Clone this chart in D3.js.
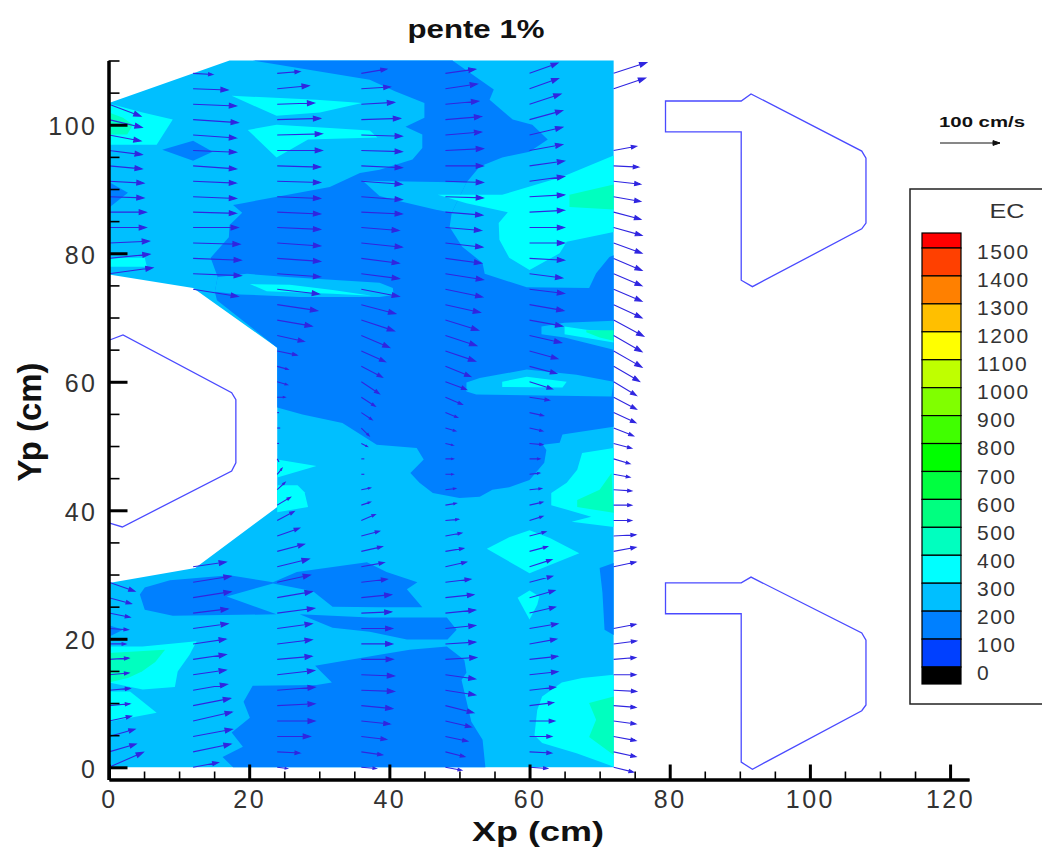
<!DOCTYPE html>
<html><head><meta charset="utf-8">
<script src="https://cdn.jsdelivr.net/npm/d3@7"></script>
<style>
html,body{margin:0;padding:0;background:#fff}
svg{display:block}
text{font-family:"Liberation Sans",Arial,sans-serif}
</style></head><body>
<div id="chart"></div>
<script>
const WIDTH = 1042, HEIGHT = 850;

// ---- EC colour levels (top = above 1500, bottom = below 0)
const levelLabels = [1500,1400,1300,1200,1100,1000,900,800,700,600,500,400,300,200,100,0];
const levelColors = ["#FF0000","#FF4000","#FF8000","#FFBF00","#FFFF00","#BFFF00","#80FF00","#40FF00","#00FF00","#00FF40","#00FF80","#00FFBF","#00FFFF","#00BFFF","#0080FF","#0040FF","#000000"];

// ---- flooded zone and EC contour bands, in cm (Xp, Yp)
const domainOutline = [[0,103.4],[17.2,110],[72,110],[72,0],[0,0],[0,28.7],[12.3,31],[24,40.5],[24,65.3],[12,74.6],[0,76.7]];

const band100 = [
 [[20.5,110],[49,110],[54.9,105.5],[54.3,103.9],[57.6,100.8],[60.4,100],[62.6,97.7],[60,95.8],[56.1,94.9],[52.9,93.5],[51,91],[48.9,86.3],[48.6,84.1],[50.4,81],[53.3,78.5],[53.6,76.8],[59.6,74.7],[68.5,74.6],[69.5,76.9],[71.4,79.4],[72,79.7],[72,53],[64.7,51.8],[64.3,50.5],[61.9,50.2],[62.4,49.4],[62.1,47.4],[60,44.7],[57.1,43.6],[54.7,43.2],[52.9,42.1],[50,41.9],[46.2,42.7],[44.3,44.3],[43,45.8],[44.9,47.9],[43.9,49.7],[38.2,50.2],[33.3,53.6],[27.6,54.9],[24,56],[24,65.3],[15.4,72.7],[15.1,74],[15.5,76.3],[14.5,79.3],[17.1,82.5],[17.2,84.4],[19,86.3],[17.7,87.5],[19.1,87.8],[31.5,90.3],[35.8,92.5],[38.6,93],[43.3,94.6],[44.7,96.4],[44.7,98.5],[42.3,99.7],[45,101.1],[45,103.4],[40.8,105.2],[37.2,107]],
 [[7.6,96.1],[12,97.5],[14.8,95.8],[12,94.4]],
 [[0,91.1],[2.7,89.4],[0,87.1]],
 [[4.4,26.9],[5.1,28],[8.7,29.1],[17.2,29.9],[23.4,28.8],[26.8,30.4],[36.8,31.9],[39.6,30.4],[44,28.8],[42.5,27.7],[44.7,24.9],[38.6,24.9],[31.9,25],[29.1,27.4],[23.4,28.6],[16.8,26.6],[23.9,23.8],[9.1,23.6],[5.1,24.5]],
 [[27.2,23.8],[37.2,23.3],[48.2,23.3],[49.6,21.4],[48.3,19.9],[42.5,19.9],[37.2,21.1],[31.9,21.7]],
 [[16.2,1.6],[19.1,3.2],[17.5,5.4],[20.1,7.7],[19.2,10.2],[20.5,12.7],[29.6,12.8],[31.8,13.2],[29.4,15.8],[38.6,17.5],[42.9,18.3],[48.2,18.8],[50.7,16.7],[51,14.7],[50.3,13.6],[51.7,7.1],[53.3,4.3],[53.7,0],[17.7,0]],
 [[70,31],[72,31.8],[72,20.6],[70.7,21.4],[70.4,27.2]],
 [[0,22.1],[2,21.4],[0,20.3]]
];
const band200 = [
 [[36.2,91.3],[51,91],[48.9,86.3],[46.5,86.8],[41.8,88],[38.6,88.9]],
 [[15.5,76.3],[19.7,76.8],[25.4,76.3],[38.6,75.4],[40.5,74.6],[40.6,73.5],[38.6,73.2],[27.2,73.2],[18.7,73.6],[15.1,74]],
 [[61.7,68.6],[65,69.2],[72,69.5],[72,65],[65,66.9],[61.7,67.4]],
 [[51,59.9],[52.9,60.6],[59.6,61.9],[66.7,61.1],[72,60],[71.7,57.7],[52.4,58],[51,58.5]]
];
const band300 = [
 [[17.5,104.5],[29.6,103.9],[36.1,103.4],[30.1,101.9],[23.9,101.4]],
 [[19.8,99.2],[23.9,100],[31.5,99.5],[37.2,99.1],[38.3,98],[28.4,97.7],[23.9,94.9]],
 [[0,103.3],[4.8,101.9],[9.1,100.8],[6.8,96.9],[0,96.9]],
 [[0,79.3],[5.1,79.3],[5.4,77.9],[0,77.9]],
 [[46.9,89.1],[56.1,89.1],[64.7,91.9],[72,95.2],[72,83.3],[65.3,81.8],[64.3,80],[60,77.4],[57.1,79.3],[55.7,82.1],[55.6,84.7],[56.9,86.4],[51,87.8]],
 [[20.1,75.2],[25.8,75.1],[31.9,74.3],[37.5,73.4],[31.9,73.7],[22.5,74.1]],
 [[65,68.6],[68.1,68.1],[71.7,67.8],[72,66.1],[65,67.4]],
 [[56.1,60],[59.6,60.8],[65.3,60],[64.7,59.1],[56.1,59.2]],
 [[67.5,48.9],[72,49.7],[72,37.4],[66,38.2],[68.8,39],[63.1,40.8],[63.1,42.7],[65.3,44.3],[66.8,46.3]],
 [[53.9,34],[57.1,35.8],[60,36.9],[62.9,35.7],[67.1,33.3],[60,30.2]],
 [[58.3,26.4],[60,27.5],[61.4,26.6],[61.1,25.3],[60,23]],
 [[61.1,8.9],[61.8,11],[64.6,13.2],[67.5,13.9],[72,14.4],[72,0.1],[66.7,2.2],[61.8,3.8],[60.7,5]],
 [[0,18.8],[4.8,18.8],[12.5,19.6],[11.5,17.5],[9.8,14.9],[9.4,12.5],[4.8,12.1],[0,13.2]],
 [[0,11.8],[3,11.8],[6.8,8.5],[0,7.1]],
 [[24,47.9],[29.6,46.9],[24,45.1]],
 [[24,43.9],[26.9,43.9],[27.9,42.8],[28.4,40.5],[24,39.7]]
];
const band400 = [
 [[0,101.9],[2,101.1],[3.4,100],[2.6,98.5],[0,98.5]],
 [[65.7,89.1],[72,90.7],[72,86.8],[65.7,87.2]],
 [[68.1,68],[72,68],[72,66.4],[70,66.9],[68.1,67.7]],
 [[71.7,45.8],[70,43.2],[66.8,41.6],[66.8,40.5],[72,39.6]],
 [[68.5,10],[72,11],[72,1.9],[68.5,4.7],[69.5,7.4]],
 [[0,17.8],[8,18.3],[6.6,16.4],[4.7,14.9],[2.7,13.9],[0,13.2]]
];

// ---- groyne outlines, in cm
const pierLeft = [[0.1,66.5],[2,67.3],[17.5,58.3],[18.1,57.2],[18.1,47.4],[17.5,46.1],[1.9,37.4],[0.1,38]];
const pierTop = [[79.4,103.7],[90.2,103.7],[91.6,104.8],[107.4,95.9],[108,94.8],[108,84.7],[107.4,83.8],[91.8,74.8],[90.2,75.8],[90.2,98.9],[79.4,98.9]];
const pierBottom = [[79.4,28.7],[90.2,28.7],[91.6,29.6],[107.4,20.9],[108,19.8],[108,9.7],[107.4,8.8],[91.8,-0.3],[90.2,0.8],[90.2,23.9],[79.4,23.9]];

// ---- velocity vectors (cm/s); one entry per row, rows every 2.4 cm from Yp = 0
const _ = null;
const colX = [0,12,24,36,48,60,72];
const rowStep = 2.4;
const u0 = [57,45,43,37,35,35,33,33,28,32,35,37,43, _,_,_,_,_,_,_,_,_,_,_,_,_,_,_,_,_,_,_, 73,68,67,62,62,58,58,55,55,53,55,53, _,_];
const v0 = [25,13,12,8,3,3,3,2,0,-2,-7,-10,-15, _,_,_,_,_,_,_,_,_,_,_,_,_,_,_,_,_,_,_, 10,7,3,0,0,-2,-3,-5,-7,-10,-13,-20, _,_];
const u1 = [42,63,65,65,62,57,55,55,55,58,58,63,63,55, _,_,_,_,_,_,_,_,_,_,_,_,_,_,_,_,_, 75,80,80,78,75,72,72,72,72,72,72,75,72,58,33];
const v1 = [8,13,12,15,12,10,8,8,8,8,7,10,10,8, _,_,_,_,_,_,_,_,_,_,_,_,_,_,_,_,_, -12,-3,-3,-2,0,-2,-3,-3,-5,-3,-5,-5,-3,-2,-2];
const u2 = [17,38,55,63,63,63,62,58,58,58,62,58,55,53,45,37,28,22,13,8,3,3,5,3,13,17,18,33,45,58,67,70,72,72,72,72,72,72,72,72,75,75,72,62,53,38];
const v2 = [-2,-2,0,0,3,5,7,5,7,8,8,10,12,13,12,13,15,13,12,10,-5,0,0,0,0,-5,-5,-7,-10,-10,-10,-8,-5,-5,-5,-3,-3,-3,-2,-2,0,2,2,2,5,3];
const u3 = [25,35,42,48,52,55,55,53,52,52,50,50,43,38,35,30,23,15,15,5,5,10,13,18,23,30,35,40,47,55,57,63,63,63,68,63,68,68,68,68,68,68,65,55,48,42];
const v3 = [-2,-5,-5,-5,-5,-2,-2,0,0,0,2,5,5,7,8,8,10,5,3,0,0,-5,-13,-12,-15,-20,-18,-18,-20,-18,-15,-12,-8,-8,-7,-5,-3,-5,-5,-3,-2,-2,2,3,3,7];
const u4 = [27,32,37,43,47,50,50,52,50,50,50,47,42,35,30,27,22,18,17,13,13,13,17,20,28,35,42,50,52,55,58,62,63,60,62,60,62,63,63,63,63,60,60,55,53,50];
const v4 = [-5,-8,-8,-10,-12,-8,-7,3,3,5,5,5,5,8,5,5,2,3,2,0,0,-3,-5,-8,-12,-13,-17,-17,-17,-17,-13,-13,-10,-8,-7,-5,-5,-2,-2,0,3,5,5,5,8,7];
const u5 = [30,37,37,42,40,43,47,47,45,47,43,42,38,37,30,27,22,22,20,17,17,22,22,23,33,38,45,47,53,55,57,58,55,58,58,58,58,58,58,58,55,55,55,52,48,47];
const v5 = [-2,-2,0,0,5,5,5,5,8,8,10,12,10,12,8,7,7,5,2,2,0,-2,-5,-5,-5,-12,-12,-13,-12,-10,-10,-7,-7,-3,0,0,3,3,8,8,10,13,15,17,17,17];
const u6 = [33,37,37,37,37,38,37,37,38,37, _,_,_, 37,37,37,30,30,30,27,27,30,33,37,38,38,43,47,47,50,47,47,47,47,47,47,45,45,45,42,38, _,_,_, 53,55];
const v6 = [-8,-8,-7,-5,-3,-2,0,3,5,7, _,_,_, 8,7,2,0,0,-2,-5,-8,-8,-13,-17,-20,-23,-25,-27,-27,-27,-22,-20,-20,-20,-17,-13,-12,-8,-5,-2,7, _,_,_, 18,18];
const columnsU = [u0,u1,u2,u3,u4,u5,u6];
const columnsV = [v0,v1,v2,v3,v4,v5,v6];

// ---- axis ticks and text
const xMajor = [0,20,40,60,80,100,120];
const xMinor = [5,10,15,25,30,35,45,50,55,65,70,75,85,90,95,105,110,115];
const yMajor = [0,20,40,60,80,100];
const yMinor = [5,10,15,25,30,35,45,50,55,65,70,75,85,90,95,105,110];
const chartTitle = "pente 1%";
const xTitle = "Xp (cm)";
const yTitle = "Yp (cm)";
const legendTitle = "EC";
const refSpeed = 100;
const refLabel = "100 cm/s";

// ---- scales
const x = d3.scaleLinear().domain([0,122.7]).range([109,969]);
const y = d3.scaleLinear().domain([-1.9,110]).range([779.5,60.5]);
const speed = d3.scaleLinear().domain([0,100]).range([0,60]);
const legendY = d3.scaleLinear().domain([0,1500]).range([667,248]);
const legendLabelY = d3.scaleLinear().domain([0,1500]).range([680,259]);

const svg = d3.select("#chart").append("svg").attr("width",WIDTH).attr("height",HEIGHT);
const line = d3.line().x(d=>x(d[0])).y(d=>y(d[1])).curve(d3.curveLinearClosed);

// ---- contour fill
const colorOf = l => levelColors[levelLabels.indexOf(l)];
const contours = svg.append("g");
contours.append("path").attr("d",line(domainOutline)).attr("fill",colorOf(200));
[[band100,100],[band200,200],[band300,300],[band400,400]].forEach(([polys,lvl])=>{
  contours.selectAll(null).data(polys).join("path").attr("d",line).attr("fill",colorOf(lvl));
});

// ---- vectors
function arrowPath(tx,ty,dx,dy){
  const p = d3.path();
  const len = Math.hypot(dx,dy);
  const ex = tx+dx, ey = ty+dy;
  p.moveTo(tx,ty); p.lineTo(ex,ey);
  if(len>6){
    const hl = Math.min(7,len*0.22), hw = hl*0.34, ux=dx/len, uy=dy/len;
    p.moveTo(ex,ey);
    p.lineTo(ex-ux*hl-uy*hw, ey-uy*hl+ux*hw);
    p.lineTo(ex-ux*hl+uy*hw, ey-uy*hl-ux*hw);
    p.closePath();
  }
  return p.toString();
}
const vectors = [];
colX.forEach((cx,c)=>columnsU[c].forEach((val,r)=>{
  if(val!==null) vectors.push({x:cx,y:r*rowStep,u:val,v:columnsV[c][r]});
}));
svg.append("g").selectAll("path").data(vectors).join("path")
  .attr("d",d=>arrowPath(x(d.x),y(d.y),speed(d.u),-speed(d.v)))
  .attr("fill","#3026e0").attr("stroke","#3026e0").attr("stroke-width",1.1);

// ---- groynes
svg.append("g").selectAll("path").data([pierLeft,pierTop,pierBottom]).join("path")
  .attr("d",(d,i)=> i===0 ? d3.line().x(p=>x(p[0])).y(p=>y(p[1]))(d) : line(d))
  .attr("fill","none").attr("stroke","#4a4aff").attr("stroke-width",1.3);

// ---- axes
function styleAxis(g,w){
  g.selectAll(".domain").attr("stroke","#000").attr("stroke-width",3);
  g.selectAll(".tick line").attr("stroke","#000").attr("stroke-width",w);
  g.selectAll("text").attr("font-family","Liberation Sans").attr("font-size",25).attr("fill","#333").attr("letter-spacing",2.5);
}
const xG = svg.append("g").attr("transform","translate(0,779.5)");
xG.append("g").call(d3.axisBottom(x).tickValues(xMinor).tickSize(-8).tickSizeOuter(0).tickFormat("")).call(styleAxis,1.6);
xG.append("g").call(d3.axisBottom(x).tickValues(xMajor).tickSize(-15).tickSizeOuter(0).tickPadding(11).tickFormat(d3.format("d"))).call(styleAxis,3);
const yG = svg.append("g").attr("transform","translate(108.5,0)");
yG.append("g").call(d3.axisLeft(y).tickValues(yMinor).tickSize(-11).tickSizeOuter(0).tickFormat("")).call(styleAxis,1.6);
const yMajorG = yG.append("g").call(d3.axisLeft(y).tickValues(yMajor).tickSize(-19).tickSizeOuter(0).tickPadding(11).tickFormat(d3.format("d"))).call(styleAxis,3);
yMajorG.selectAll("text").attr("dy","0.4em");

// ---- titles
svg.append("text").text(chartTitle).attr("x",476).attr("y",38).attr("text-anchor","middle")
  .attr("font-weight","bold").attr("font-size",26).attr("fill","#111")
  .attr("textLength",137).attr("lengthAdjust","spacingAndGlyphs");
svg.append("text").text(xTitle).attr("x",538).attr("y",841).attr("text-anchor","middle")
  .attr("font-weight","bold").attr("font-size",28).attr("fill","#111")
  .attr("textLength",132).attr("lengthAdjust","spacingAndGlyphs");
svg.append("text").text(yTitle).attr("transform","translate(41,422) rotate(-90)").attr("text-anchor","middle")
  .attr("font-weight","bold").attr("font-size",33).attr("fill","#111")
  .attr("textLength",119).attr("lengthAdjust","spacingAndGlyphs");

// ---- reference vector
svg.append("text").text(refLabel).attr("x",982).attr("y",127).attr("text-anchor","middle")
  .attr("font-weight","bold").attr("font-size",15).attr("fill","#111")
  .attr("textLength",86).attr("lengthAdjust","spacingAndGlyphs");
svg.append("path").attr("d",arrowPath(940,143,speed(refSpeed),0)).attr("fill","#111").attr("stroke","#111").attr("stroke-width",1);

// ---- legend
const legend = svg.append("g");
legend.append("rect").attr("x",910).attr("y",189).attr("width",140).attr("height",515)
  .attr("fill","#fff").attr("stroke","#222").attr("stroke-width",1.5);
legend.append("text").text(legendTitle).attr("x",1007).attr("y",218).attr("text-anchor","middle")
  .attr("font-size",21).attr("fill","#333")
  .attr("textLength",35).attr("lengthAdjust","spacingAndGlyphs");
const step = legendY(0)-legendY(100);
legend.selectAll("rect.cell").data(levelColors).join("rect").attr("class","cell")
  .attr("x",922).attr("width",39)
  .attr("y",(d,i)=> i===0 ? legendY(1500)-15 : legendY(levelLabels[i-1]))
  .attr("height",(d,i)=> i===0 ? 15 : (i===levelColors.length-1 ? 17 : step))
  .attr("fill",d=>d).attr("stroke","#000").attr("stroke-width",1.2);
legend.selectAll("text.lab").data(levelLabels).join("text").attr("class","lab")
  .text(d=>d).attr("x",977).attr("y",d=>legendLabelY(d))
  .attr("font-size",21).attr("letter-spacing",1.5).attr("fill","#333");
</script>
</body></html>
